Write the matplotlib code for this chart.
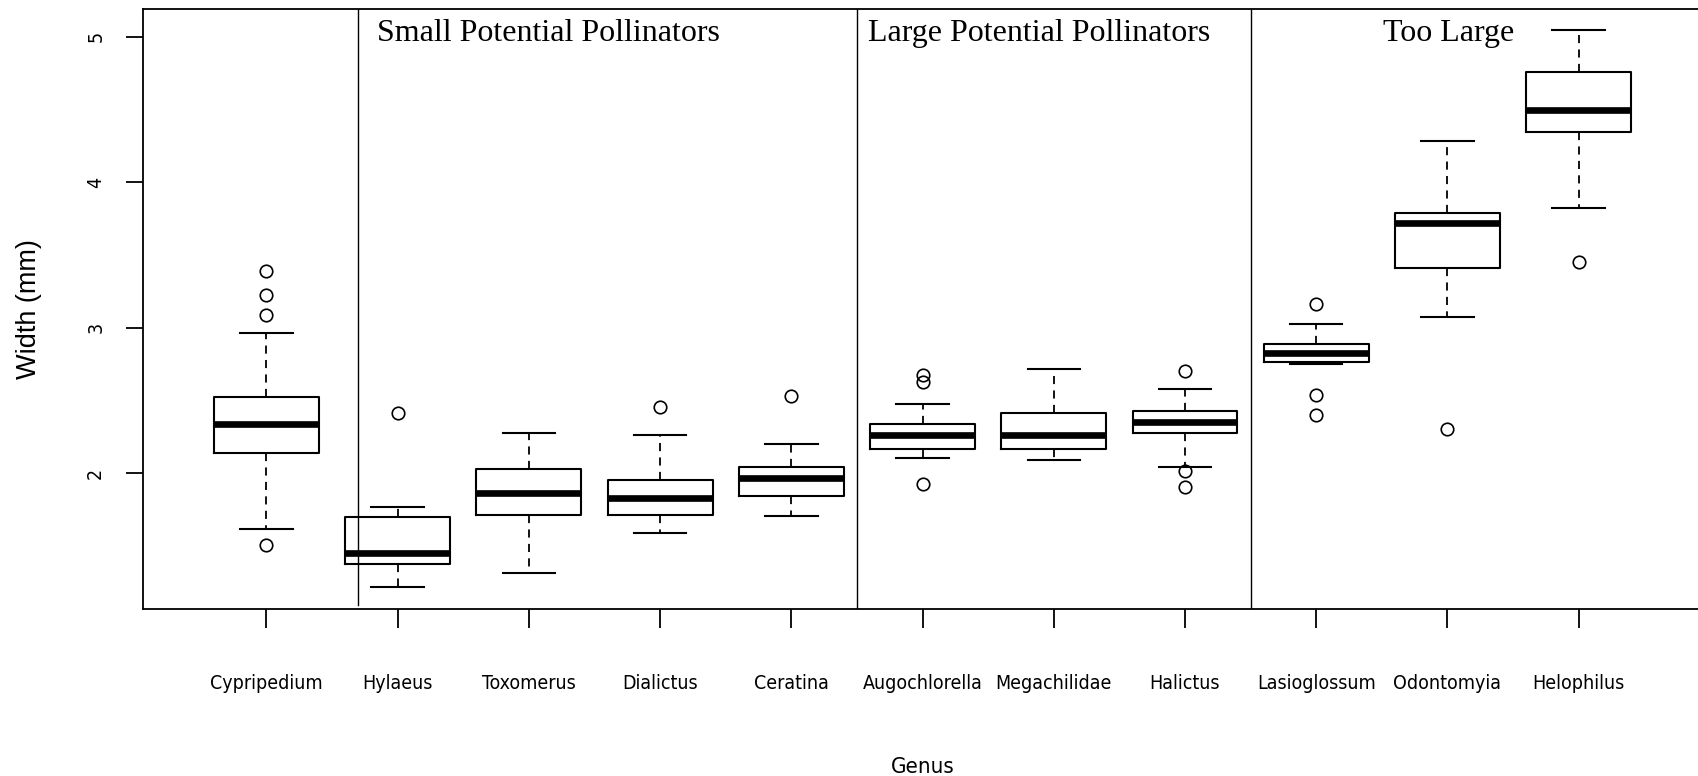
import matplotlib
matplotlib.use("Agg")
import matplotlib.pyplot as plt

# body width per genus, summary values read as five-number boxes
genera = ["Cypripedium", "Hylaeus", "Toxomerus", "Dialictus", "Ceratina",
          "Augochlorella", "Megachilidae", "Halictus", "Lasioglossum",
          "Odontomyia", "Helophilus"]
whis_lo = [1.62, 1.22, 1.313, 1.588, 1.709, 2.107, 2.092, 2.046, 2.754, 3.073, 3.822]
q1 = [2.14, 1.375, 1.71, 1.71, 1.846, 2.167, 2.167, 2.275, 2.767, 3.41, 4.343]
med = [2.34, 1.45, 1.865, 1.833, 1.97, 2.261, 2.261, 2.353, 2.827, 3.717, 4.495]
q3 = [2.525, 1.70, 2.03, 1.955, 2.045, 2.337, 2.412, 2.428, 2.887, 3.789, 4.76]
whis_hi = [2.965, 1.77, 2.277, 2.26, 2.20, 2.474, 2.717, 2.579, 3.026, 4.283, 5.046]
outliers = [
    [3.39, 3.225, 3.085, 1.505],
    [2.415],
    [],
    [2.458],
    [2.533],
    [2.676, 2.63, 1.924],
    [],
    [2.703, 2.016, 1.908],
    [3.162, 2.536, 2.40],
    [2.305],
    [3.452],
]

group_names = ["Small Potential Pollinators", "Large Potential Pollinators", "Too Large"]
group_text_x = [1.843, 5.584, 9.506]
group_text_y = 4.968
separators = [1.7, 5.5, 8.5]
separator_bottom = [1.095, 1.0, 1.0]

stats = []
for i, name in enumerate(genera):
    stats.append({
        "label": name,
        "whislo": whis_lo[i], "q1": q1[i], "med": med[i],
        "q3": q3[i], "whishi": whis_hi[i], "fliers": outliers[i],
    })

narrow = ["DejaVu Sans", "Liberation Sans"]
sans = ["Liberation Sans", "DejaVu Sans"]
serif = ["Liberation Serif", "DejaVu Serif"]

fig = plt.figure(figsize=(16.98, 7.76), dpi=100)
ax = fig.add_axes([0.0842, 0.2157, 1.0024 - 0.0842, 0.9888 - 0.2157])

ax.bxp(
    stats,
    positions=range(1, len(genera) + 1),
    widths=0.8,
    showfliers=True,
    boxprops=dict(color="black", linewidth=1.5),
    medianprops=dict(color="black", linewidth=4.8, solid_capstyle="butt"),
    whiskerprops=dict(color="black", linewidth=1.3, linestyle=(0, (4.5, 3.5))),
    capprops=dict(color="black", linewidth=1.5),
    capwidths=0.4,
    flierprops=dict(marker="o", markerfacecolor="none", markeredgecolor="black",
                    markersize=9, markeredgewidth=1.2),
)

ax.set_xlim(0.06, 11.94)
ax.set_ylim(1.07, 5.193)

for xs, yb in zip(separators, separator_bottom):
    ax.plot([xs, xs], [yb, 5.3], color="black", linewidth=1.0, clip_on=True)

for name, tx in zip(group_names, group_text_x):
    ax.text(tx, group_text_y, name, fontsize=23, family=serif,
            ha="left", va="baseline")

for side in ["left", "bottom", "top", "right"]:
    ax.spines[side].set_linewidth(1.3)

ax.set_yticks([2, 3, 4, 5])
ax.set_yticklabels(["2", "3", "4", "5"], rotation=90, va="center", ha="center",
                   fontsize=14, family=narrow, stretch="condensed")
ax.set_xticks(range(1, len(genera) + 1))
ax.set_xticklabels(genera, fontsize=14, family=narrow, stretch="condensed")
ax.tick_params(axis="y", length=12, width=1.3, pad=22)
ax.tick_params(axis="x", length=14, width=1.3, pad=33)

ax.set_ylabel("Width (mm)", fontsize=19.5, family=sans)
ax.yaxis.set_label_coords(-0.065, 0.5)
ax.set_xlabel("Genus", fontsize=16, family=narrow, stretch="condensed")
ax.xaxis.set_label_coords(0.5, -0.247)

fig.savefig("out.png", dpi=100)
